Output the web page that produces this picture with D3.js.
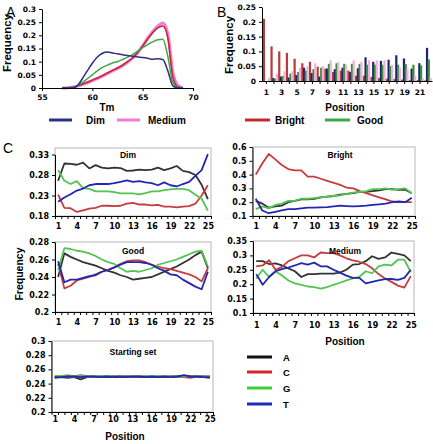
<!DOCTYPE html>
<html><head><meta charset="utf-8">
<script src="https://cdn.jsdelivr.net/npm/d3@7/dist/d3.min.js"></script>
<style>body{margin:0;background:#fff}svg{display:block}</style>
</head><body>
<script>
// ---------- DATA ----------
const tm = [57,57.5,58,58.5,59,59.5,60,60.5,61,61.5,62,62.5,63,63.5,64,64.5,65,65.5,66,66.5,67,67.5,68,68.5,69];
const tmDim    = [0,0,0,0.008,0.035,0.065,0.094,0.118,0.132,0.137,0.133,0.130,0.126,0.123,0.121,0.118,0.116,0.113,0.109,0.111,0.108,0.065,0.008,0,0];
const tmGood   = [0,0,0,0.008,0.02,0.035,0.05,0.065,0.078,0.087,0.095,0.100,0.108,0.117,0.127,0.140,0.153,0.165,0.175,0.183,0.185,0.12,0.02,0.002,0];
const tmBright = [0,0.001,0.003,0.008,0.014,0.022,0.03,0.038,0.047,0.057,0.067,0.076,0.087,0.100,0.115,0.135,0.160,0.185,0.210,0.228,0.235,0.19,0.04,0.004,0];
const tmMedium = [0,0.001,0.003,0.007,0.013,0.02,0.028,0.036,0.045,0.055,0.065,0.074,0.085,0.098,0.113,0.134,0.160,0.190,0.215,0.235,0.247,0.205,0.06,0.01,0];
const tmXTicks = [55,60,65,70];
const freqTicksA = [0,0.05,0.1,0.15,0.2,0.25,0.3];

const positionsB = d3.range(1,23);
const barBright = [0.21,0.117,0.1,0.095,0.075,0.06,0.065,0.048,0.042,0.03,0.035,0.035,0.018,0.018,0.014,0.01,0.008,0.007,0.005,0.003,0.003,0.002];
const barDim    = [0,0.01,0.015,0.012,0.02,0.045,0.027,0.015,0.042,0.04,0.045,0.03,0.043,0.08,0.065,0.068,0.072,0.087,0.076,0.042,0.06,0.112];
const barGood   = [0,0.008,0.017,0.025,0.03,0.035,0.04,0.045,0.058,0.06,0.058,0.058,0.058,0.055,0.055,0.055,0.05,0.055,0.057,0.055,0.053,0.073];
const barMedium = [0.01,0.025,0.033,0.033,0.045,0.05,0.06,0.05,0.07,0.065,0.055,0.07,0.065,0.07,0.07,0.07,0.055,0.045,0.04,0.018,0.008,0.01];
const freqTicksB = [0,0.05,0.1,0.15,0.2,0.25];

const positionsC = d3.range(1,26);
const posLabelsC = [1,4,7,10,13,16,19,22,25];
const dimA = [0.266,0.308,0.307,0.305,0.310,0.296,0.304,0.298,0.296,0.298,0.297,0.290,0.291,0.293,0.292,0.293,0.298,0.292,0.296,0.302,0.290,0.287,0.280,0.256,0.221];
const dimC = [0.232,0.200,0.199,0.190,0.194,0.198,0.200,0.205,0.205,0.204,0.205,0.210,0.212,0.208,0.208,0.206,0.207,0.203,0.203,0.201,0.203,0.204,0.210,0.230,0.255];
const dimG = [0.292,0.266,0.258,0.265,0.248,0.246,0.240,0.240,0.240,0.238,0.235,0.235,0.235,0.233,0.236,0.240,0.240,0.243,0.245,0.246,0.246,0.243,0.232,0.222,0.193];
const dimT = [0.215,0.225,0.233,0.242,0.247,0.255,0.258,0.258,0.258,0.260,0.263,0.267,0.263,0.265,0.262,0.260,0.255,0.262,0.255,0.252,0.258,0.263,0.278,0.292,0.331];
const brA = [0.21,0.19,0.16,0.17,0.175,0.20,0.21,0.22,0.22,0.225,0.235,0.24,0.245,0.255,0.26,0.265,0.275,0.275,0.28,0.285,0.295,0.295,0.29,0.29,0.265];
const brC = [0.40,0.48,0.55,0.51,0.47,0.44,0.43,0.43,0.385,0.385,0.37,0.355,0.34,0.325,0.305,0.30,0.28,0.265,0.25,0.235,0.22,0.205,0.20,0.20,0.20];
const brG = [0.15,0.17,0.155,0.18,0.19,0.21,0.21,0.225,0.225,0.23,0.235,0.24,0.245,0.25,0.26,0.27,0.275,0.28,0.295,0.295,0.30,0.29,0.295,0.30,0.265];
const brT = [0.225,0.14,0.12,0.13,0.14,0.15,0.15,0.155,0.16,0.16,0.162,0.165,0.17,0.175,0.172,0.17,0.172,0.175,0.18,0.185,0.19,0.20,0.205,0.20,0.232];
const gdA = [0.240,0.267,0.263,0.260,0.257,0.255,0.253,0.250,0.247,0.245,0.242,0.240,0.237,0.238,0.239,0.240,0.243,0.246,0.249,0.252,0.256,0.260,0.265,0.269,0.250];
const gdC = [0.255,0.227,0.230,0.236,0.238,0.240,0.243,0.246,0.248,0.251,0.255,0.258,0.259,0.259,0.257,0.254,0.252,0.250,0.249,0.247,0.245,0.243,0.240,0.235,0.250];
const gdG = [0.248,0.273,0.272,0.270,0.269,0.267,0.264,0.260,0.257,0.255,0.250,0.246,0.247,0.246,0.248,0.250,0.254,0.256,0.258,0.260,0.263,0.266,0.269,0.270,0.252];
const gdT = [0.258,0.234,0.237,0.237,0.239,0.241,0.242,0.246,0.248,0.251,0.254,0.257,0.257,0.257,0.256,0.254,0.250,0.247,0.243,0.242,0.237,0.233,0.229,0.226,0.246];
const mdA = [0.280,0.280,0.270,0.272,0.265,0.255,0.245,0.225,0.235,0.235,0.237,0.237,0.237,0.240,0.250,0.268,0.270,0.280,0.297,0.288,0.293,0.310,0.305,0.300,0.280];
const mdC = [0.262,0.265,0.283,0.250,0.260,0.280,0.290,0.300,0.300,0.293,0.310,0.308,0.308,0.300,0.290,0.283,0.278,0.270,0.255,0.235,0.220,0.208,0.195,0.188,0.228];
const mdG = [0.220,0.250,0.225,0.245,0.230,0.213,0.203,0.198,0.192,0.190,0.185,0.190,0.198,0.205,0.213,0.220,0.225,0.245,0.238,0.262,0.268,0.265,0.285,0.285,0.242];
const mdT = [0.235,0.198,0.225,0.245,0.252,0.258,0.265,0.273,0.268,0.275,0.262,0.262,0.250,0.240,0.230,0.222,0.222,0.203,0.208,0.213,0.218,0.218,0.215,0.222,0.250];
const stA = [0.248,0.249,0.248,0.249,0.246,0.249,0.250,0.250,0.249,0.249,0.249,0.250,0.249,0.249,0.250,0.249,0.249,0.249,0.250,0.250,0.250,0.249,0.250,0.249,0.248];
const stC = [0.249,0.250,0.249,0.250,0.252,0.250,0.249,0.250,0.250,0.251,0.250,0.251,0.250,0.249,0.249,0.250,0.250,0.250,0.250,0.250,0.249,0.248,0.250,0.251,0.250];
const stG = [0.251,0.251,0.252,0.250,0.251,0.250,0.250,0.250,0.251,0.250,0.250,0.250,0.250,0.251,0.251,0.250,0.251,0.250,0.250,0.250,0.250,0.251,0.250,0.250,0.251];
const stT = [0.249,0.249,0.250,0.250,0.249,0.250,0.250,0.249,0.250,0.249,0.250,0.249,0.250,0.250,0.249,0.250,0.249,0.250,0.249,0.250,0.252,0.250,0.250,0.249,0.249];
const ticksDim = [0.18,0.23,0.28,0.33];
const ticksBright = [0.1,0.2,0.3,0.4,0.5,0.6];
const ticksGood = [0.2,0.22,0.24,0.26,0.28];
const ticksMedium = [0.1,0.15,0.2,0.25,0.3,0.35];
const ticksStart = [0.2,0.22,0.24,0.26,0.28,0.3];
const bases = ["A","C","G","T"];

// ---------- STYLE ----------
const TICKF = "'DejaVu Sans', Verdana, sans-serif";
const LABF = "'Liberation Sans', Arial, sans-serif";
const col = {Dim:"#2b2f86", Medium:"#f07ad6", Bright:"#c4262c", Good:"#3fa646"};
const barCol = {Bright:"#b83a3a", Dim:"#1e2470", Good:"#3d8f3d", Medium:"#f2b0da"};
const baseCol = {A:"#333333", C:"#c63b3d", G:"#52c452", T:"#2226b0"};
const legCol = {A:"#111111", C:"#d8232c", G:"#3ccc3c", T:"#1e2ab8"};

const svg = d3.select("body").append("svg").attr("width",433).attr("height",444);

function styleAxis(g, size){
  g.attr("font-family", TICKF).attr("font-size", size).attr("font-weight","bold");
  g.selectAll("path,line").attr("stroke","#000");
}
function txt(x,y,s,opt={}){
  const t = svg.append("text").attr("x",x).attr("y",y).text(s)
    .attr("font-family", opt.f||LABF).attr("font-size", opt.size||10)
    .attr("font-weight", opt.w||"bold").attr("text-anchor", opt.a||"middle").attr("fill","#000");
  if(opt.rot) t.attr("transform",`rotate(-90,${x},${y})`);
  return t;
}

// ---------- PANEL A ----------
const xA = d3.scaleLinear([55,70],[42,193]);
const yA = d3.scaleLinear([0,0.3],[88,9]);
const lineA = vals => d3.line().x((d,i)=>xA(tm[i])).y(d=>yA(d)).curve(d3.curveMonotoneX)(vals);
svg.append("path").attr("d",lineA(tmMedium)).attr("fill","none").attr("stroke",col.Medium).attr("stroke-width",3);
svg.append("path").attr("d",lineA(tmBright)).attr("fill","none").attr("stroke",col.Bright).attr("stroke-width",1.5);
svg.append("path").attr("d",lineA(tmGood)).attr("fill","none").attr("stroke",col.Good).attr("stroke-width",1.5);
svg.append("path").attr("d",lineA(tmDim)).attr("fill","none").attr("stroke",col.Dim).attr("stroke-width",1.5);
svg.append("g").attr("transform","translate(42,0)")
  .call(d3.axisLeft(yA).tickValues(freqTicksA).tickSize(3).tickSizeOuter(0).tickFormat(d=>d))
  .call(g=>styleAxis(g,7.5));
svg.append("g").attr("transform","translate(0,88)")
  .call(d3.axisBottom(xA).tickValues(tmXTicks).tickSize(3).tickSizeOuter(0).tickPadding(4))
  .call(g=>styleAxis(g,7.5));
txt(107,111,"Tm");
txt(11,43,"Frequency",{rot:true,size:11.5});
txt(6,17,"A",{w:"normal",size:14,a:"start"});
[["Dim",49,86],["Medium",117,148]].forEach(([k,x,tx])=>{
  svg.append("line").attr("x1",x).attr("x2",x+23).attr("y1",120).attr("y2",120).attr("stroke",col[k]).attr("stroke-width",3);
  txt(tx,124,k,{a:"start",size:10});
});

// ---------- PANEL B ----------
const seriesB = ["Bright","Dim","Good","Medium"];
const valsB = {Bright:barBright, Dim:barDim, Good:barGood, Medium:barMedium};
const xB = d3.scaleBand(positionsB,[262,432]).paddingInner(0).paddingOuter(0.06);
const xSub = d3.scaleBand(seriesB,[0.3,xB.bandwidth()-0.3]);
const yB = d3.scaleLinear([0,0.25],[81,7]);
seriesB.forEach(s=>{
  svg.append("g").selectAll("rect").data(positionsB).join("rect")
    .attr("x",p=>xB(p)+xSub(s)).attr("width",xSub.bandwidth()*1.25)
    .attr("y",(p,i)=>yB(valsB[s][i])).attr("height",(p,i)=>yB(0)-yB(valsB[s][i]))
    .attr("fill",barCol[s]);
});
svg.append("g").attr("transform","translate(262,0)")
  .call(d3.axisLeft(yB).tickValues(freqTicksB).tickSize(3).tickSizeOuter(0).tickFormat(d=>d))
  .call(g=>styleAxis(g,7.5));
svg.append("g").attr("transform","translate(0,81)")
  .call(d3.axisBottom(xB).tickSize(3).tickSizeOuter(0).tickPadding(6).tickFormat(d=>d%2?d:""))
  .call(g=>styleAxis(g,7.5));
txt(345,111,"Position");
txt(233,45,"Frequency",{rot:true,size:11.5});
txt(217,17,"B",{w:"normal",size:14,a:"start"});
[["Bright",245,275],["Good",325,357]].forEach(([k,x,tx])=>{
  svg.append("line").attr("x1",x).attr("x2",x+25).attr("y1",120).attr("y2",120).attr("stroke",col[k]).attr("stroke-width",3);
  txt(tx,124,k,{a:"start",size:10});
});

// ---------- PANEL C ----------
txt(3,153,"C",{w:"normal",size:14,a:"start"});
function subplot(c){
  const x = d3.scaleLinear([0.5,25.5],[c.x0,c.x1]);
  const y = d3.scaleLinear([c.ticks[0], c.ticks[c.ticks.length-1]],[c.yb, c.yt]);
  svg.append("rect").attr("x",c.x0).attr("y",c.top).attr("width",c.x1-c.x0).attr("height",c.yb-c.top)
    .attr("fill","none").attr("stroke","#b8b8b8").attr("stroke-width",1);
  bases.forEach((b,i)=>{
    svg.append("path").attr("d",d3.line().x((d,j)=>x(positionsC[j])).y(d=>y(d))(c.data[i]))
      .attr("fill","none").attr("stroke",baseCol[b]).attr("stroke-width",1.8).attr("stroke-linejoin","round");
  });
  svg.append("g").attr("transform",`translate(${c.x0},0)`)
    .call(d3.axisLeft(y).tickValues(c.ticks).tickSize(3).tickSizeOuter(0).tickFormat(d=>d))
    .call(g=>styleAxis(g,8));
  svg.append("g").attr("transform",`translate(0,${c.yb})`)
    .call(d3.axisBottom(x).tickValues(d3.range(0.5,26,1)).tickSize(3).tickSizeOuter(0).tickFormat(""))
    .call(g=>styleAxis(g,8));
  svg.append("g").attr("transform",`translate(0,${c.yb})`)
    .call(d3.axisBottom(x).tickValues(posLabelsC).tickSize(0).tickPadding(c.pad))
    .call(g=>{styleAxis(g,8); g.select(".domain").remove();});
  txt(c.tx,c.ty,c.title,{size:8.5});
}
subplot({x0:55,x1:211,yb:216,yt:154.5,top:148,ticks:ticksDim,data:[dimA,dimC,dimG,dimT],title:"Dim",tx:128,ty:158,pad:7});
subplot({x0:252.5,x1:415,yb:216,yt:147,top:147,ticks:ticksBright,data:[brA,brC,brG,brT],title:"Bright",tx:340,ty:158,pad:7});
subplot({x0:55,x1:211,yb:312,yt:242,top:242,ticks:ticksGood,data:[gdA,gdC,gdG,gdT],title:"Good",tx:133,ty:254,pad:7});
subplot({x0:253,x1:414,yb:313,yt:241,top:241,ticks:ticksMedium,data:[mdA,mdC,mdG,mdT],title:"Medium",tx:345,ty:254,pad:9});
subplot({x0:51.5,x1:213,yb:412,yt:341,top:341,ticks:ticksStart,data:[stA,stC,stG,stT],title:"Starting set",tx:133,ty:355,pad:4});
txt(23,274,"Frequency",{rot:true,size:10.5});
txt(345,345,"Position");
txt(125,440,"Position");
bases.forEach((b,i)=>{
  const yy = [357,372,388,404][i];
  svg.append("line").attr("x1",247).attr("x2",272).attr("y1",yy).attr("y2",yy).attr("stroke",legCol[b]).attr("stroke-width",3);
  txt(283,yy+3.5,b,{a:"start",size:9.5});
});
</script>
</body></html>
